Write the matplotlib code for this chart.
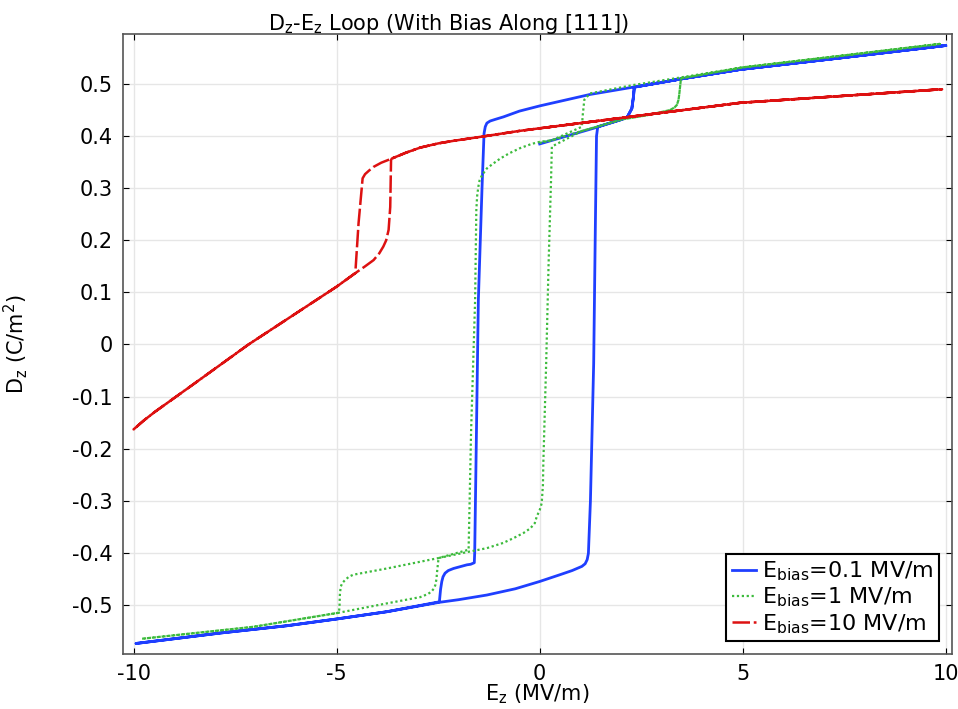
import matplotlib
matplotlib.use('Agg')
import matplotlib.pyplot as plt

plt.rcParams['font.family'] = 'DejaVu Sans'
plt.rcParams['mathtext.default'] = 'regular'
plt.rcParams['axes.unicode_minus'] = False

# values, in the order each loop was swept
e_01 = [0, 1.41, 2.02, 2.16, 2.27, 2.31, 2.33, 3.5, 4.94, 7.5, 10,
        7.5, 4.94, 3.5, 2.3, 1.24, 0, -0.5, -0.89, -1.1, -1.22, -1.3, -1.34, -1.37, -1.42, -1.51,
        -1.6, -1.61, -1.7, -1.79, -2.12, -2.25, -2.33, -2.38, -2.41, -2.44, -2.47,
        -3.76, -5.0, -6.23, -7.87, -9.94,
        -7.87, -6.23, -5.0, -3.76, -2.47, -2.0, -1.3, -0.6, 0, 0.5, 0.8, 1.04, 1.12, 1.17, 1.2,
        1.25, 1.33, 1.37, 1.40, 1.43, 2.02, 2.16, 2.27, 2.31, 2.33, 3.5, 4.94, 7.5, 10]
d_01 = [0.385, 0.417, 0.432, 0.437, 0.453, 0.476, 0.494, 0.51, 0.528, 0.551, 0.574,
        0.551, 0.528, 0.51, 0.494, 0.48, 0.458, 0.448, 0.437, 0.432, 0.429, 0.425, 0.418, 0.405, 0.30, 0.085,
        -0.40, -0.419, -0.422, -0.423, -0.43, -0.434, -0.439, -0.446, -0.455, -0.47, -0.494,
        -0.513, -0.527, -0.54, -0.554, -0.574,
        -0.554, -0.54, -0.527, -0.513, -0.495, -0.49, -0.481, -0.469, -0.455, -0.442, -0.434, -0.426, -0.421,
        -0.413, -0.401,
        -0.3, -0.036, 0.22, 0.40, 0.418, 0.432, 0.437, 0.453, 0.476, 0.494, 0.51, 0.528, 0.551, 0.574]

e_1 = [0, 0.3, 1.04, 1.41, 2.02, 2.64, 3.21, 3.32, 3.38, 3.42, 3.44, 3.48, 5.0, 7.5, 9.85,
       7.5, 5.0, 3.5, 2.3, 1.24, 1.1, 1.06, 1.04, 0.3, 0, -0.2, -0.48, -0.75, -0.97, -1.15, -1.3,
       -1.42, -1.48, -1.51, -1.54, -1.56, -1.59, -1.69, -1.75, -2.49, -3.76, -4.59, -4.7, -4.79,
       -4.86, -4.9, -4.92, -4.93, -4.95, -7.05, -9.8,
       -7.05, -4.95, -3.76, -2.94, -2.75, -2.66, -2.6, -2.57, -2.54, -2.53, -2.49, -1.75, -1.3,
       -0.9, -0.65, -0.4, -0.23, -0.12, -0.07, 0.0, 0.05, 0.08, 0.09, 0.16, 0.22, 0.28, 0.3,
       1.04, 1.41, 2.02, 2.64, 3.21, 3.32, 3.38, 3.42, 3.44, 3.48, 5.0, 7.5, 9.85]
d_1 = [0.387, 0.392, 0.41, 0.418, 0.432, 0.44, 0.45, 0.455, 0.46, 0.47, 0.482, 0.511, 0.532, 0.555, 0.577,
       0.555, 0.532, 0.513, 0.498, 0.482, 0.47, 0.44, 0.418, 0.392, 0.389, 0.385, 0.377, 0.367, 0.357, 0.347,
       0.338, 0.325, 0.315, 0.303, 0.285, 0.258, 0.085, -0.17, -0.394, -0.41, -0.43, -0.442, -0.446, -0.452,
       -0.458, -0.465, -0.48, -0.506, -0.515, -0.542, -0.565,
       -0.542, -0.515, -0.497, -0.485, -0.479, -0.474, -0.468, -0.462, -0.45, -0.439, -0.41, -0.398, -0.391,
       -0.381, -0.372, -0.362, -0.353, -0.343, -0.33, -0.318, -0.305, -0.27, -0.228, -0.036, 0.156, 0.316,
       0.38, 0.41, 0.418, 0.432, 0.44, 0.45, 0.455, 0.46, 0.47, 0.482, 0.511, 0.532, 0.555, 0.577]

e_10 = [0, 4.94, 9.91, 4.94, 0, -0.5, -1.34, -2.12, -2.5, -2.94, -3.3, -3.64, -3.66, -3.68, -3.72,
        -3.78, -3.85, -3.95, -4.09, -4.3, -4.54, -5.0, -7.17, -8.61, -9.47, -9.75, -10.0,
        -9.75, -9.47, -8.61, -7.17, -5.0, -4.54, -4.46, -4.36, -4.3, -4.2, -4.09, -3.9, -3.64, -3.3,
        -2.94, -2.5, -2.12, -1.34, -0.5, 0, 4.94, 9.91]
d_10 = [0.415, 0.464, 0.49, 0.464, 0.415, 0.41, 0.4, 0.391, 0.386, 0.378, 0.368, 0.357, 0.354, 0.264, 0.22,
        0.2, 0.188, 0.175, 0.162, 0.15, 0.137, 0.111, 0.0, -0.081, -0.129, -0.146, -0.163,
        -0.146, -0.129, -0.081, 0.0, 0.111, 0.137, 0.233, 0.319, 0.327, 0.334, 0.341, 0.349, 0.357, 0.368,
        0.378, 0.386, 0.391, 0.4, 0.41, 0.415, 0.464, 0.49]

x_ticks = [-10, -5, 0, 5, 10]
y_ticks = [-0.5, -0.4, -0.3, -0.2, -0.1, 0, 0.1, 0.2, 0.3, 0.4, 0.5]
y_labels = ['-0.5', '-0.4', '-0.3', '-0.2', '-0.1', '0', '0.1', '0.2', '0.3', '0.4', '0.5']

fig = plt.figure(figsize=(9.58, 7.09), dpi=100)
ax = fig.add_axes([0.128, 0.077, 0.866, 0.875])

ax.plot(e_01, d_01, color='#1f3fff', lw=2.0, label=r'E$_{bias}$=0.1 MV/m')
ax.plot(e_1, d_1, color='#3dbb3d', lw=1.6, ls=(0, (1, 1.2)), label=r'E$_{bias}$=1 MV/m')
ax.plot(e_10, d_10, color='#dd1111', lw=1.8, ls=(0, (7, 1.5)), label=r'E$_{bias}$=10 MV/m')

ax.set_xlim(-10.27, 10.16)
ax.set_ylim(-0.595, 0.596)
ax.set_xticks(x_ticks)
ax.set_xticklabels([str(t) for t in x_ticks])
ax.set_yticks(y_ticks)
ax.set_yticklabels(y_labels)
ax.tick_params(direction='in', top=True, right=True, length=4, labelsize=15, pad=7)
ax.grid(True, color='#e6e6e6', lw=1)
ax.set_axisbelow(True)
for s in ax.spines.values():
    s.set_color('#555555')
    s.set_linewidth(1.2)

fig.text(0.468, 0.983, r'D$_z$-E$_z$ Loop (With Bias Along [111])', fontsize=15,
         ha='center', va='top')
ax.set_xlabel(r'E$_z$ (MV/m)', fontsize=15)
ax.set_ylabel(r'D$_z$ (C/m$^2$)', fontsize=15)
ax.xaxis.set_label_coords(0.5, -0.045)
ax.yaxis.set_label_coords(-0.112, 0.5)

leg = ax.legend(loc='lower right', fontsize=16, fancybox=False, framealpha=1,
                edgecolor='black', handlelength=1.1, handletextpad=0.25,
                labelspacing=0.12, borderpad=0.25, borderaxespad=0.6)
leg.get_frame().set_linewidth(1.5)

fig.savefig('out.png', dpi=100)
